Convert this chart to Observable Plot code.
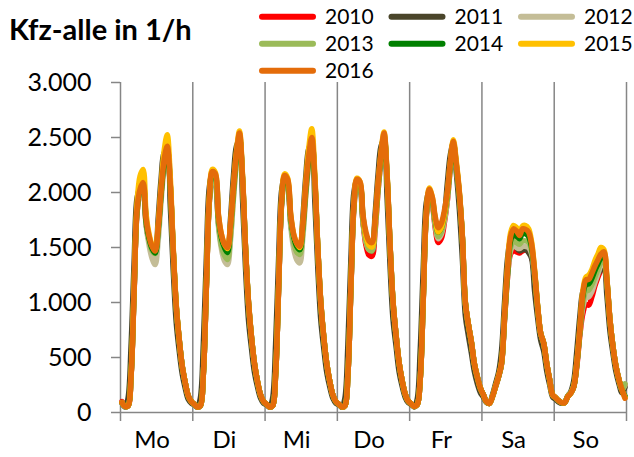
<!DOCTYPE html>
<html><head><meta charset="utf-8">
<script src="https://cdn.jsdelivr.net/npm/d3@7"></script>
<script src="https://cdn.jsdelivr.net/npm/@observablehq/plot@0.6"></script>
<style>
body{margin:0;background:#fff;}
#wrap{position:relative;width:634px;height:457px;overflow:hidden;font-family:Lato,sans-serif;}
#overlay{position:absolute;left:0;top:0;}
</style></head><body>
<div id="wrap"><div id="chart"></div><svg id="overlay" width="634" height="90"></svg></div>
<script>
const years = [2010, 2011, 2012, 2013, 2014, 2015, 2016];
const colors = ["#FF0000", "#4A452A", "#C4BD97", "#9BBB59", "#008000", "#FFC000", "#E46C0A"];
const days = ["Mo", "Di", "Mi", "Do", "Fr", "Sa", "So"];
const yTicks = [0, 500, 1000, 1500, 2000, 2500, 3000];
const title = "Kfz-alle in 1/h";

const v2010 = [
100,60,60,330,1080,1820,2000,2050,1720,1560,1460,1430,1650,2000,2280,2390,2070,1470,960,660,420,270,150,100,
75,50,60,350,1130,1920,2140,2110,1740,1540,1450,1420,1640,2000,2300,2500,2120,1490,990,680,440,280,160,100,
75,50,60,350,1130,1900,2110,2070,1740,1540,1460,1430,1650,2000,2290,2460,2100,1490,990,680,440,280,160,100,
75,50,60,350,1130,1860,2080,2060,1740,1520,1430,1421,1640,2010,2300,2500,2130,1510,990,700,450,290,170,105,
80,55,70,300,1010,1770,1990,1900,1680,1545,1580,1720,1920,2220,2430,2230,1970,1590,990,800,640,440,320,220,
160,98,83,144,235,320,440,840,1230,1440,1470,1460,1450,1470,1480,1470,1420,1240,950,720,630,447,295,159,
135,107,89,89,150,180,240,420,700,900,980,977,1050,1150,1230,1300,1380,1170,841,600,420,300,210,250];

const v2011 = [
85,50,130,600,1350,1950,2040,2040,1720,1560,1470,1440,1760,2130,2360,2380,1900,1300,820,560,350,220,120,85,
70,48,130,620,1400,2050,2170,2100,1740,1560,1460,1430,1750,2150,2420,2480,1950,1320,840,580,360,230,130,85,
70,48,130,620,1400,2020,2140,2080,1740,1560,1470,1440,1750,2140,2400,2450,1930,1320,840,580,360,230,130,85,
70,48,130,620,1400,2000,2110,2060,1740,1570,1490,1470,1790,2160,2420,2480,1960,1330,840,600,370,240,140,90,
75,50,120,560,1300,1900,2010,1920,1720,1600,1650,1780,2080,2340,2450,2180,1850,1400,880,700,540,370,260,180,
140,90,85,160,260,360,560,1000,1400,1560,1580,1500,1470,1480,1480,1454,1400,1100,860,660,560,380,250,140,
120,95,85,95,150,190,290,560,870,1100,1150,1150,1180,1220,1260,1300,1330,1060,740,540,370,260,180,230];

const v2012 = [
90,55,60,340,1090,1820,1990,2040,1700,1520,1400,1345,1560,1930,2230,2380,2060,1470,960,660,420,270,150,100,
75,50,60,350,1130,1910,2130,2100,1700,1490,1380,1345,1560,1940,2270,2490,2110,1490,990,680,440,280,160,100,
75,50,60,350,1130,1890,2100,2060,1700,1490,1390,1360,1580,1960,2260,2450,2090,1490,990,680,440,280,160,100,
75,50,60,350,1130,1860,2070,2050,1740,1550,1480,1485,1670,2020,2300,2500,2130,1510,990,700,450,290,170,105,
80,55,70,300,1010,1770,1990,1910,1700,1580,1620,1740,1930,2220,2430,2230,1970,1590,990,800,640,440,320,220,
160,98,83,144,235,320,440,840,1230,1470,1520,1500,1490,1510,1510,1500,1440,1250,950,720,630,447,295,159,
135,107,89,89,150,180,240,435,720,960,1040,1053,1100,1180,1260,1340,1400,1180,841,600,420,300,210,250];

const v2013 = [
90,55,60,340,1100,1830,2000,2050,1720,1560,1470,1445,1640,1980,2260,2390,2070,1470,960,660,420,270,150,100,
75,50,60,350,1140,1920,2140,2110,1720,1520,1430,1390,1600,1970,2290,2500,2120,1490,990,680,440,280,160,100,
75,50,60,350,1140,1900,2110,2070,1730,1540,1460,1436,1630,1990,2280,2460,2100,1490,990,680,440,280,160,100,
75,50,60,350,1140,1870,2080,2060,1750,1560,1480,1470,1680,2030,2310,2510,2140,1510,990,700,450,290,170,105,
80,55,70,300,1020,1780,2000,1920,1720,1600,1640,1760,1950,2230,2440,2240,1980,1590,990,800,640,440,320,220,
160,98,83,144,235,320,440,850,1250,1500,1560,1545,1530,1560,1560,1550,1470,1260,955,720,630,447,295,159,
135,107,89,89,150,180,240,440,730,1000,1100,1114,1160,1230,1300,1370,1420,1190,841,600,420,300,210,260];

const v2014 = [
90,55,60,340,1100,1850,2030,2070,1740,1580,1490,1450,1660,2000,2280,2400,2080,1480,970,660,420,270,150,100,
75,50,60,350,1150,1940,2170,2150,1780,1590,1500,1455,1680,2030,2330,2520,2140,1500,1000,680,440,280,160,100,
75,50,60,350,1150,1920,2140,2100,1780,1600,1510,1480,1680,2030,2310,2480,2120,1500,1000,680,440,280,160,100,
75,50,60,350,1150,1890,2100,2080,1780,1610,1530,1520,1720,2060,2330,2520,2150,1520,1000,700,450,290,170,105,
80,55,70,300,1030,1790,2010,1940,1750,1640,1680,1800,1980,2250,2450,2250,1990,1600,1000,800,640,440,320,220,
160,98,83,144,235,326,447,860,1270,1560,1630,1610,1580,1630,1625,1600,1500,1270,960,720,630,447,295,159,
132,107,89,89,144,174,235,440,740,1060,1170,1170,1220,1290,1350,1410,1440,1200,841,598,417,295,205,150];

const v2015 = [
90,55,60,340,1120,1900,2150,2210,1800,1620,1520,1480,1700,2060,2380,2525,2150,1500,980,660,420,270,150,100,
75,50,60,350,1150,1950,2210,2180,1800,1620,1530,1490,1700,2060,2370,2560,2160,1500,1000,680,440,280,160,100,
75,50,60,350,1150,1940,2170,2130,1800,1620,1540,1500,1710,2080,2400,2580,2170,1510,1000,680,440,280,160,100,
75,50,60,350,1150,1900,2130,2100,1780,1600,1520,1505,1720,2070,2360,2550,2170,1520,1000,700,450,290,170,105,
80,55,70,300,1030,1800,2040,1960,1760,1640,1680,1800,1990,2270,2480,2280,2010,1600,1000,800,640,440,320,220,
160,98,83,144,235,330,450,880,1320,1630,1700,1680,1640,1695,1700,1670,1550,1290,965,720,630,447,295,159,
135,107,89,89,144,174,240,450,760,1100,1230,1250,1300,1380,1440,1500,1480,1210,845,600,420,295,205,135];

const v2016 = [
90,55,60,330,1100,1850,2030,2090,1760,1600,1510,1467,1680,2020,2300,2420,2090,1480,970,660,420,270,150,100,
75,50,60,350,1150,1950,2190,2170,1800,1620,1530,1500,1700,2050,2350,2540,2150,1500,1000,680,440,280,160,100,
75,50,60,350,1150,1930,2155,2120,1800,1620,1540,1510,1700,2050,2330,2500,2130,1500,1000,680,440,280,160,100,
75,50,60,350,1150,1900,2120,2100,1800,1640,1560,1545,1740,2080,2350,2540,2160,1520,1000,700,450,290,170,105,
80,55,70,300,1030,1800,2030,1960,1780,1680,1720,1830,2000,2270,2465,2260,2000,1600,1000,800,640,440,320,220,
160,98,83,144,235,326,447,871,1295,1598,1670,1650,1610,1670,1665,1640,1530,1280,962,720,630,447,295,159,
132,107,89,89,144,174,235,447,750,1083,1205,1210,1266,1332,1386,1440,1462,1205,841,598,417,295,205,130];

const series = [v2010, v2011, v2012, v2013, v2014, v2015, v2016];

const rows = [];
years.forEach((y, k) => series[k].forEach((v, i) => rows.push({year: String(y), i: i + 0.5, v})));

const de = d3.formatLocale({decimal: ",", thousands: ".", grouping: [3], currency: ["", "€"]});
const fmt = de.format(",");
const hoursPerDay = 24;
const bounds = d3.range(0, days.length * hoursPerDay + 1, hoursPerDay);
const labelPos = days.map((d, k) => k * hoursPerDay + 10.5);
const grey = "#868686";

const chart = Plot.plot({
  width: 634, height: 457,
  marginLeft: 120, marginRight: 8, marginTop: 82, marginBottom: 45,
  style: {fontFamily: "Lato, sans-serif", color: "#000", background: "#fff", overflow: "visible"},
  x: {domain: [0, days.length * hoursPerDay], label: null},
  y: {domain: [0, 3000], label: null},
  color: {domain: years.map(String), range: colors},
  marks: [
    Plot.ruleX(bounds, {y1: 0, y2: 3000, stroke: grey, strokeWidth: 1.5}),
    Plot.ruleY([0], {stroke: grey, strokeWidth: 1.5}),
    Plot.axisY({ticks: yTicks, label: null, tickSize: 9, tickPadding: 20, tickFormat: fmt, fontSize: 25, stroke: grey, strokeWidth: 1.5, strokeOpacity: 1}),
    Plot.axisX({ticks: bounds, label: null, tickSize: 9, tickFormat: () => "", stroke: grey, strokeWidth: 1.5, strokeOpacity: 1}),
    Plot.axisX({ticks: labelPos, label: null, tickSize: 0, tickPadding: 18, fontSize: 24,
      tickFormat: d => days[Math.round((d - 10.5) / hoursPerDay)]}),
    Plot.line(rows, {x: "i", y: "v", z: "year", stroke: "year", strokeWidth: 5.5, curve: "catmull-rom"})
  ]
});
document.getElementById("chart").appendChild(chart);

// title and legend overlay
const ov = d3.select("#overlay");
ov.append("text").attr("x", 9).attr("y", 40)
  .attr("font-family", "Lato, sans-serif").attr("font-weight", "bold").attr("font-size", 29)
  .text(title);
years.forEach((y, k) => {
  const col = k % 3, row = Math.floor(k / 3);
  const x0 = 262 + col * 129.5, cy = 16.7 + row * 27;
  ov.append("line").attr("x1", x0).attr("x2", x0 + 51).attr("y1", cy).attr("y2", cy)
    .attr("stroke", colors[k]).attr("stroke-width", 6).attr("stroke-linecap", "round");
  ov.append("text").attr("x", x0 + 63).attr("y", cy + 7.5)
    .attr("font-family", "Lato, sans-serif").attr("font-size", 21).text(String(y));
});
</script>
</body></html>
